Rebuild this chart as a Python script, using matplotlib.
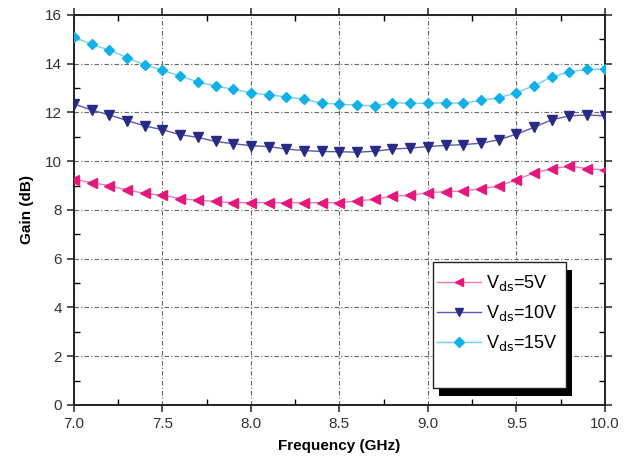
import matplotlib
matplotlib.use("Agg")
import matplotlib.pyplot as plt
from matplotlib.patches import Rectangle
from matplotlib.ticker import MultipleLocator

# Gain vs frequency for three drain voltages
freq_ghz = [7.0 + 0.1 * i for i in range(31)]
gain_5v = [9.25, 9.12, 9.0, 8.82, 8.68, 8.6, 8.47, 8.4, 8.35, 8.3, 8.3,
           8.3, 8.3, 8.3, 8.3, 8.3, 8.37, 8.44, 8.57, 8.6, 8.71,
           8.75, 8.78, 8.87, 8.98, 9.23, 9.53, 9.69, 9.8, 9.7, 9.64]
gain_10v = [12.35, 12.1, 11.9, 11.67, 11.45, 11.29, 11.09, 10.98, 10.81, 10.72, 10.64,
            10.6, 10.5, 10.44, 10.4, 10.39, 10.37, 10.41, 10.5, 10.54, 10.6,
            10.65, 10.68, 10.74, 10.88, 11.11, 11.39, 11.7, 11.86, 11.9, 11.86]
gain_15v = [15.1, 14.79, 14.56, 14.25, 13.95, 13.73, 13.5, 13.25, 13.09, 12.95, 12.81,
            12.72, 12.64, 12.54, 12.38, 12.34, 12.3, 12.27, 12.4, 12.38, 12.38,
            12.4, 12.38, 12.5, 12.6, 12.81, 13.1, 13.46, 13.67, 13.77, 13.77]
labels = [r"V$_{\rm ds}$=5V", r"V$_{\rm ds}$=10V", r"V$_{\rm ds}$=15V"]

plt.rcParams["font.family"] = ["Liberation Sans", "DejaVu Sans"]

fig = plt.figure(figsize=(6.32, 4.61), dpi=100)
ax = fig.add_axes([0.117, 0.1215, 0.84, 0.846])

ax.plot(freq_ghz, gain_5v, color="#f07ab0", lw=1.0, marker="<", ms=6.5,
        mfc="#e5177a", mec="#e5177a", label=labels[0], zorder=3)
ax.plot(freq_ghz, gain_10v, color="#5a5aa8", lw=1.0, marker="v", ms=6.5,
        mfc="#2a2a86", mec="#2a2a86", label=labels[1], zorder=3)
ax.plot(freq_ghz, gain_15v, color="#6fd0f0", lw=1.0, marker="D", ms=5.5,
        mfc="#12b0e8", mec="#12b0e8", label=labels[2], zorder=3)

ax.set_xlim(7.0, 10.0)
ax.set_ylim(0, 16)
ax.xaxis.set_major_locator(MultipleLocator(0.5))
ax.xaxis.set_minor_locator(MultipleLocator(0.25))
ax.yaxis.set_major_locator(MultipleLocator(2))
ax.yaxis.set_minor_locator(MultipleLocator(1))
ax.xaxis.set_major_formatter(matplotlib.ticker.FormatStrFormatter("%.1f"))

ax.tick_params(which="major", direction="out", length=5, width=1.2,
               labelsize=11, colors="#333333")
ax.tick_params(which="minor", direction="in", length=4, width=1.0)
ax.tick_params(which="both", top=True, right=True)
for s in ax.spines.values():
    s.set_linewidth(1.4)
    s.set_color("#222222")

ax.grid(True, which="major", color="#666666", lw=0.8,
        linestyle=(0, (4, 2, 1, 2)), zorder=0)

ax.set_xlabel("Frequency (GHz)", fontsize=11, fontweight="bold", labelpad=6)
ax.set_ylabel("Gain (dB)", fontsize=11, fontweight="bold", labelpad=8)

# legend frame with a drop shadow
x0, y0, w, h = 0.676, 0.044, 0.251, 0.323
ax.add_patch(Rectangle((x0 + 0.011, y0 - 0.02), w, h, transform=ax.transAxes,
                       facecolor="black", edgecolor="none", zorder=5))
ax.add_patch(Rectangle((x0, y0), w, h, transform=ax.transAxes,
                       facecolor="white", edgecolor="#222222", lw=1.0, zorder=6))
leg = ax.legend(loc="upper left", bbox_to_anchor=(x0 - 0.005, y0 + h - 0.01),
                frameon=False, fontsize=13, handlelength=2.4, handletextpad=0.3,
                labelspacing=0.55, borderaxespad=0, markerscale=0.85)
leg.set_zorder(7)

fig.savefig("out.png", dpi=100)
